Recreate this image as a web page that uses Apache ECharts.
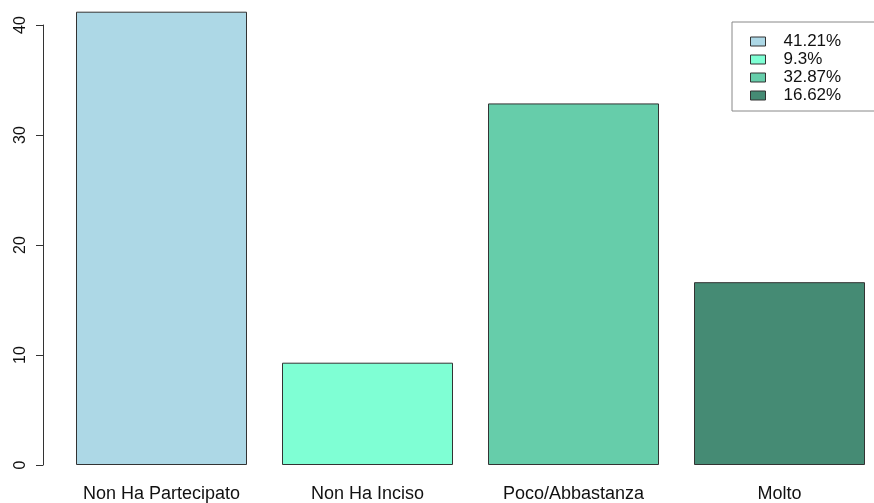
<!DOCTYPE html>
<html>
<head>
<meta charset="utf-8">
<script src="https://cdn.jsdelivr.net/npm/echarts@6/dist/echarts.min.js"></script>
<style>
html,body{margin:0;padding:0;background:#fff;overflow:hidden;width:874px;height:503px;}
#c{width:883px;height:503px;}
</style>
</head>
<body>
<div id="c"></div>
<script>
var categories = ['Non Ha Partecipato', 'Non Ha Inciso', 'Poco/Abbastanza', 'Molto'];
var values = [41.21, 9.3, 32.87, 16.62];
var legendLabels = ['41.21%', '9.3%', '32.87%', '16.62%'];
var colors = ['#ADD8E6', '#7FFFD4', '#66CDAA', '#458B74'];
var yTicks = [0, 10, 20, 30, 40];

var FONT = 'Liberation Sans, Arial, sans-serif';
var chart = echarts.init(document.getElementById('c'), null, {renderer: 'canvas'});

var series = categories.map(function (cat, i) {
  var data = categories.map(function (c, j) { return j === i ? values[i] : '-'; });
  return {
    name: legendLabels[i],
    type: 'bar',
    stack: 'all',
    barWidth: 171,
    clip: false,
    data: data,
    itemStyle: {color: colors[i], borderColor: '#333', borderWidth: 1},
    emphasis: {disabled: true},
    animation: false
  };
});

chart.setOption({
  animation: false,
  grid: {left: 58.5, top: 25, width: 824, height: 440, containLabel: false},
  legend: {
    orient: 'vertical',
    left: 732,
    top: 22,
    padding: [11, 60, 7, 18],
    backgroundColor: '#fff',
    borderColor: '#888',
    borderWidth: 1,
    borderRadius: 0,
    itemWidth: 15,
    itemHeight: 9,
    itemGap: 1,
    icon: 'rect',
    selectedMode: false,
    itemStyle: {borderColor: '#333', borderWidth: 1},
    textStyle: {fontFamily: FONT, fontSize: 17, color: '#111', lineHeight: 17, padding: [0, 0, 0, 13]},
    data: legendLabels
  },
  xAxis: {
    type: 'category',
    data: categories,
    axisLine: {show: false},
    axisTick: {show: false},
    axisLabel: {fontFamily: FONT, fontSize: 18, color: '#111', margin: 20, interval: 0}
  },
  yAxis: {
    type: 'value',
    min: yTicks[0],
    max: yTicks[yTicks.length - 1],
    interval: 10,
    offset: 15.5,
    axisLine: {show: true, lineStyle: {color: '#333', width: 1}},
    axisTick: {show: true, length: 7, lineStyle: {color: '#333'}},
    splitLine: {show: false},
    axisLabel: {fontFamily: FONT, fontSize: 16, color: '#111', rotate: 90, margin: 14}
  },
  series: series
});
</script>
</body>
</html>
